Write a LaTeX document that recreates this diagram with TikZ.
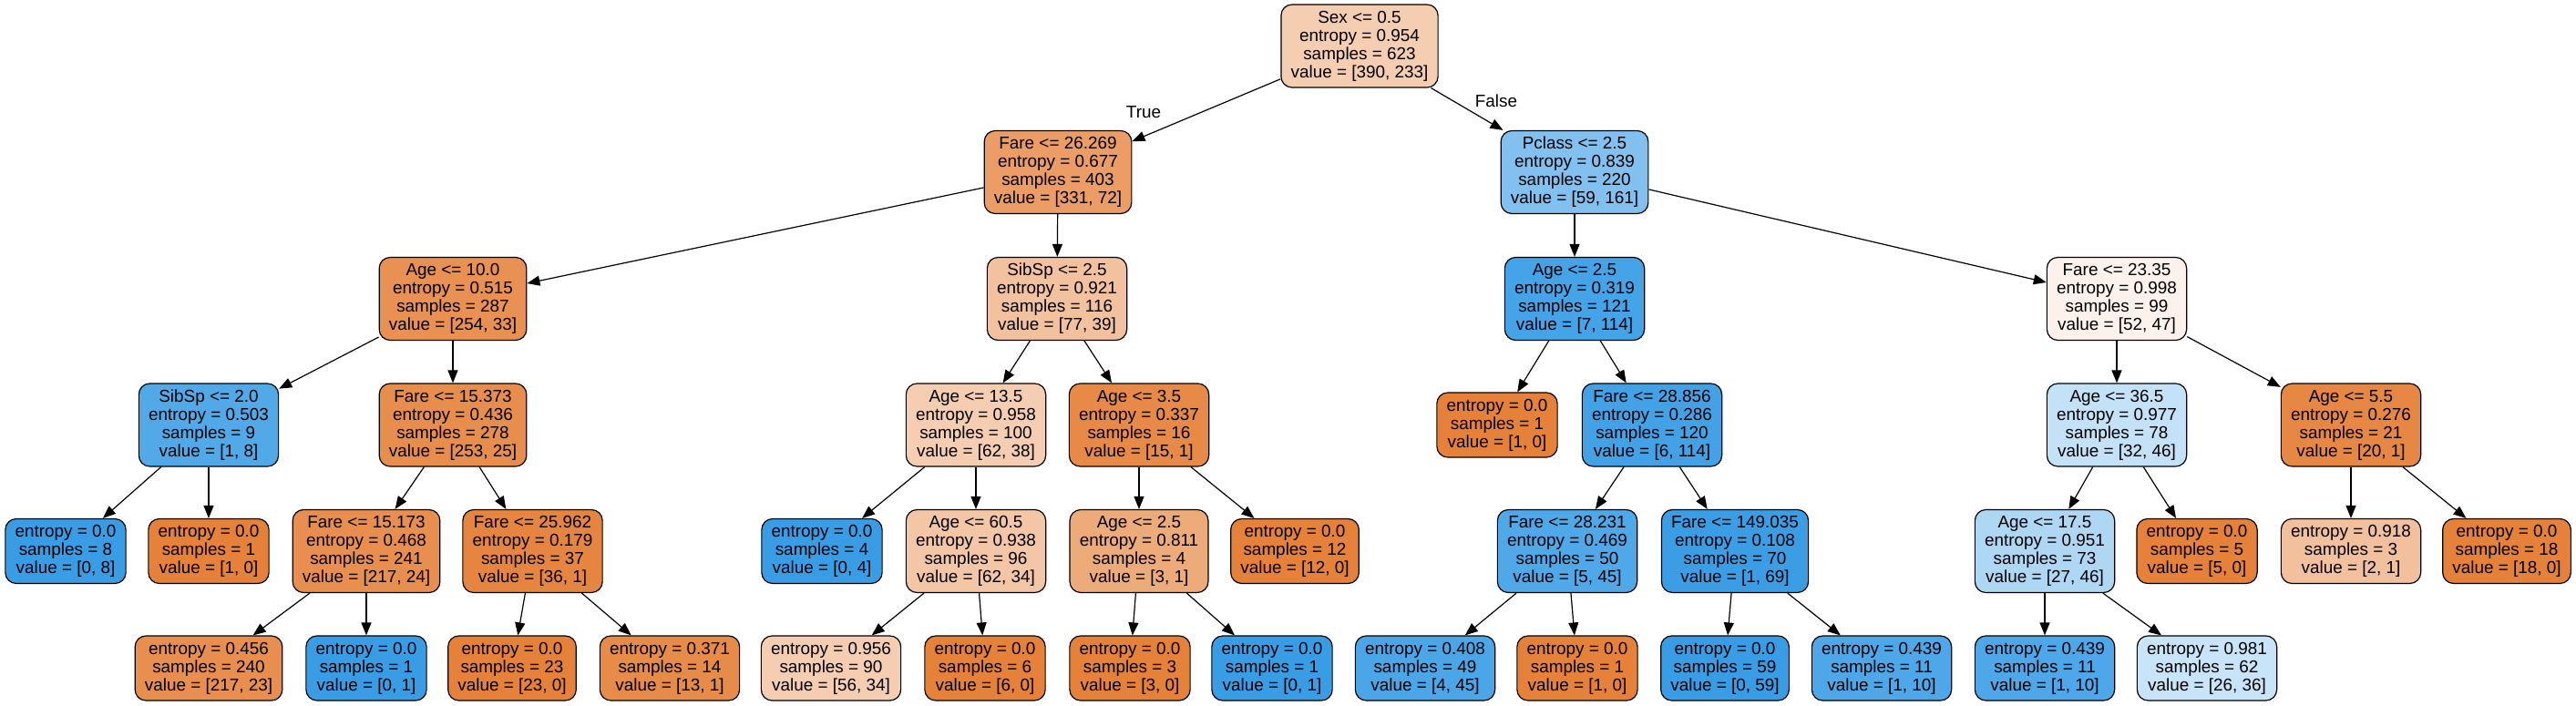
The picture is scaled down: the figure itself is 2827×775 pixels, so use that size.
\documentclass[tikz,border=0pt]{standalone}
\usepackage{fontspec}
\setmainfont{Liberation Sans}
\usetikzlibrary{arrows.meta}
\definecolor{oc}{RGB}{229,129,57}
\definecolor{bc}{RGB}{57,157,229}
\tikzset{
  tnode/.style={draw=black, line width=1.2pt, rounded corners=12pt, inner xsep=10.7pt, inner ysep=3pt,
    align=center, font=\fontsize{18.9}{20}\selectfont, minimum height=91pt},
  tleaf/.style={tnode, minimum height=71pt},
  arr/.style={draw=black, line width=1.2pt, -{Triangle[length=14pt,width=11pt]}},
  elab/.style={font=\fontsize{18.9}{20}\selectfont, inner sep=0pt},
}
\begin{document}
\begin{tikzpicture}[x=1pt,y=-1pt]
\useasboundingbox (0,0) rectangle (2827,775);
% row 0
\node[tnode, fill=oc!40] (n0) at (1492,50.5) {Sex <= 0.5\\entropy = 0.954\\samples = 623\\value = [390, 233]};
% row 1
\node[tnode, fill=oc!78] (n1) at (1161,189) {Fare <= 26.269\\entropy = 0.677\\samples = 403\\value = [331, 72]};
\node[tnode, fill=bc!63] (n2) at (1728,189) {Pclass <= 2.5\\entropy = 0.839\\samples = 220\\value = [59, 161]};
% row 2
\node[tnode, fill=oc!87] (n3) at (497,328) {Age <= 10.0\\entropy = 0.515\\samples = 287\\value = [254, 33]};
\node[tnode, fill=oc!49] (n4) at (1160,328) {SibSp <= 2.5\\entropy = 0.921\\samples = 116\\value = [77, 39]};
\node[tnode, fill=bc!94] (n5) at (1728,328) {Age <= 2.5\\entropy = 0.319\\samples = 121\\value = [7, 114]};
\node[tnode, fill=oc!10] (n6) at (2323,328) {Fare <= 23.35\\entropy = 0.998\\samples = 99\\value = [52, 47]};
% row 3
\node[tnode, fill=bc!88] (n7) at (229,466.5) {SibSp <= 2.0\\entropy = 0.503\\samples = 9\\value = [1, 8]};
\node[tnode, fill=oc!90] (n8) at (497,466.5) {Fare <= 15.373\\entropy = 0.436\\samples = 278\\value = [253, 25]};
\node[tnode, fill=oc!39] (n9) at (1071,466.5) {Age <= 13.5\\entropy = 0.958\\samples = 100\\value = [62, 38]};
\node[tnode, fill=oc!93] (n10) at (1250,466.5) {Age <= 3.5\\entropy = 0.337\\samples = 16\\value = [15, 1]};
\node[tleaf, fill=oc] (n11) at (1643,466.5) {entropy = 0.0\\samples = 1\\value = [1, 0]};
\node[tnode, fill=bc!95] (n12) at (1813,466.5) {Fare <= 28.856\\entropy = 0.286\\samples = 120\\value = [6, 114]};
\node[tnode, fill=bc!30] (n13) at (2323,466.5) {Age <= 36.5\\entropy = 0.977\\samples = 78\\value = [32, 46]};
\node[tnode, fill=oc!95] (n14) at (2580,466.5) {Age <= 5.5\\entropy = 0.276\\samples = 21\\value = [20, 1]};
% row 4
\node[tleaf, fill=bc] (n15) at (72,605) {entropy = 0.0\\samples = 8\\value = [0, 8]};
\node[tleaf, fill=oc] (n16) at (229,605) {entropy = 0.0\\samples = 1\\value = [1, 0]};
\node[tnode, fill=oc!89] (n17) at (402,605) {Fare <= 15.173\\entropy = 0.468\\samples = 241\\value = [217, 24]};
\node[tnode, fill=oc!97] (n18) at (584.5,605) {Fare <= 25.962\\entropy = 0.179\\samples = 37\\value = [36, 1]};
\node[tleaf, fill=bc] (n19) at (902,605) {entropy = 0.0\\samples = 4\\value = [0, 4]};
\node[tnode, fill=oc!45] (n20) at (1071,605) {Age <= 60.5\\entropy = 0.938\\samples = 96\\value = [62, 34]};
\node[tnode, fill=oc!67] (n21) at (1250,605) {Age <= 2.5\\entropy = 0.811\\samples = 4\\value = [3, 1]};
\node[tleaf, fill=oc] (n22) at (1421,605) {entropy = 0.0\\samples = 12\\value = [12, 0]};
\node[tnode, fill=bc!89] (n23) at (1720,605) {Fare <= 28.231\\entropy = 0.469\\samples = 50\\value = [5, 45]};
\node[tnode, fill=bc!99] (n24) at (1904,605) {Fare <= 149.035\\entropy = 0.108\\samples = 70\\value = [1, 69]};
\node[tnode, fill=bc!41] (n25) at (2244,605) {Age <= 17.5\\entropy = 0.951\\samples = 73\\value = [27, 46]};
\node[tleaf, fill=oc] (n26) at (2411,605) {entropy = 0.0\\samples = 5\\value = [5, 0]};
\node[tleaf, fill=oc!50] (n27) at (2580,605) {entropy = 0.918\\samples = 3\\value = [2, 1]};
\node[tleaf, fill=oc] (n28) at (2751,605) {entropy = 0.0\\samples = 18\\value = [18, 0]};
% row 5
\node[tleaf, fill=oc!89] (n29) at (229,733.5) {entropy = 0.456\\samples = 240\\value = [217, 23]};
\node[tleaf, fill=bc] (n30) at (402,733.5) {entropy = 0.0\\samples = 1\\value = [0, 1]};
\node[tleaf, fill=oc] (n31) at (562,733.5) {entropy = 0.0\\samples = 23\\value = [23, 0]};
\node[tleaf, fill=oc!92] (n32) at (735,733.5) {entropy = 0.371\\samples = 14\\value = [13, 1]};
\node[tleaf, fill=oc!39] (n33) at (912,733.5) {entropy = 0.956\\samples = 90\\value = [56, 34]};
\node[tleaf, fill=oc] (n34) at (1081,733.5) {entropy = 0.0\\samples = 6\\value = [6, 0]};
\node[tleaf, fill=oc] (n35) at (1240,733.5) {entropy = 0.0\\samples = 3\\value = [3, 0]};
\node[tleaf, fill=bc] (n36) at (1396,733.5) {entropy = 0.0\\samples = 1\\value = [0, 1]};
\node[tleaf, fill=bc!91] (n37) at (1564,733.5) {entropy = 0.408\\samples = 49\\value = [4, 45]};
\node[tleaf, fill=oc] (n38) at (1731,733.5) {entropy = 0.0\\samples = 1\\value = [1, 0]};
\node[tleaf, fill=bc] (n39) at (1893,733.5) {entropy = 0.0\\samples = 59\\value = [0, 59]};
\node[tleaf, fill=bc!90] (n40) at (2065,733.5) {entropy = 0.439\\samples = 11\\value = [1, 10]};
\node[tleaf, fill=bc!90] (n41) at (2244,733.5) {entropy = 0.439\\samples = 11\\value = [1, 10]};
\node[tleaf, fill=bc!28] (n42) at (2422,733.5) {entropy = 0.981\\samples = 62\\value = [26, 36]};
% edges
\draw[arr] (n0) -- (n1);
\draw[arr] (n0) -- (n2);
\node[elab] (lt) at (1255,123) {True};
\node[elab] (lf) at (1642,111) {False};
\draw[arr] (n1) -- (n3);
\draw[arr] (n1) -- (n4);
\draw[arr] (n2) -- (n5);
\draw[arr] (n2) -- (n6);
\draw[arr] (n3) -- (n7);
\draw[arr] (n3) -- (n8);
\draw[arr] (n4) -- (n9);
\draw[arr] (n4) -- (n10);
\draw[arr] (n5) -- (n11);
\draw[arr] (n5) -- (n12);
\draw[arr] (n6) -- (n13);
\draw[arr] (n6) -- (n14);
\draw[arr] (n7) -- (n15);
\draw[arr] (n7) -- (n16);
\draw[arr] (n8) -- (n17);
\draw[arr] (n8) -- (n18);
\draw[arr] (n9) -- (n19);
\draw[arr] (n9) -- (n20);
\draw[arr] (n10) -- (n21);
\draw[arr] (n10) -- (n22);
\draw[arr] (n12) -- (n23);
\draw[arr] (n12) -- (n24);
\draw[arr] (n13) -- (n25);
\draw[arr] (n13) -- (n26);
\draw[arr] (n14) -- (n27);
\draw[arr] (n14) -- (n28);
\draw[arr] (n17) -- (n29);
\draw[arr] (n17) -- (n30);
\draw[arr] (n18) -- (n31);
\draw[arr] (n18) -- (n32);
\draw[arr] (n20) -- (n33);
\draw[arr] (n20) -- (n34);
\draw[arr] (n21) -- (n35);
\draw[arr] (n21) -- (n36);
\draw[arr] (n23) -- (n37);
\draw[arr] (n23) -- (n38);
\draw[arr] (n24) -- (n39);
\draw[arr] (n24) -- (n40);
\draw[arr] (n25) -- (n41);
\draw[arr] (n25) -- (n42);
\end{tikzpicture}
\end{document}
